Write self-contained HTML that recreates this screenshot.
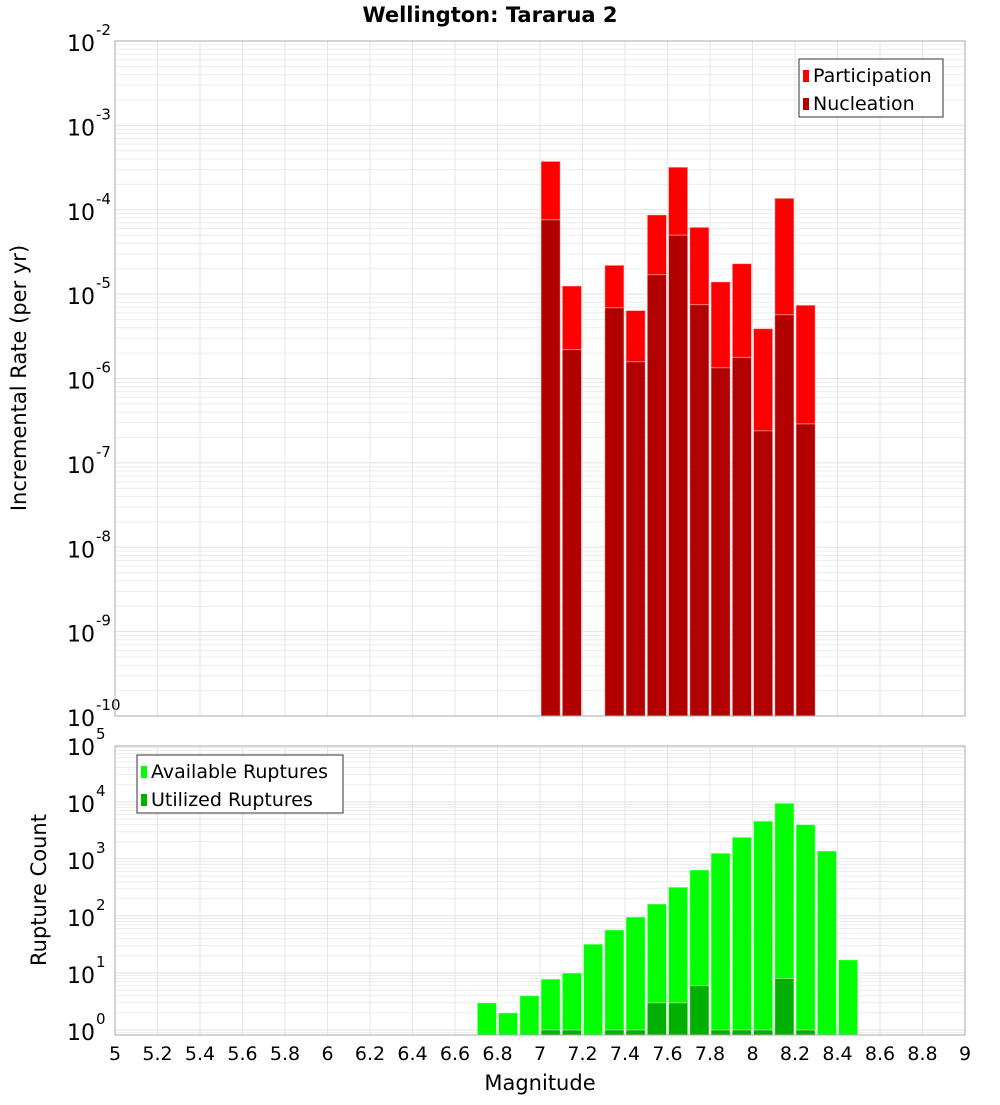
<!DOCTYPE html>
<html><head><meta charset="utf-8"><style>
body{margin:0;background:#fff;}
svg text{font-family:"DejaVu Sans","Liberation Sans",sans-serif;}
</style></head><body>
<svg id="chart" width="1000" height="1100" xmlns="http://www.w3.org/2000/svg">
<rect width="1000" height="1100" fill="#fff"/>
<text x="490" y="22" text-anchor="middle" font-size="21" font-weight="bold">Wellington: Tararua 2</text>
<g id="topPanel"></g><g id="botPanel"></g><g id="xaxis"></g>
<text x="540" y="1090" text-anchor="middle" font-size="21">Magnitude</text>
<text transform="translate(26,378) rotate(-90)" text-anchor="middle" font-size="21">Incremental Rate (per yr)</text>
<text transform="translate(46,890) rotate(-90)" text-anchor="middle" font-size="21">Rupture Count</text>
</svg>
<script>
const rateBins = [7.0,7.1,7.3,7.4,7.5,7.6,7.7,7.8,7.9,8.0,8.1,8.2];
const participation = [3.75e-4,1.25e-5,2.2e-5,6.4e-6,8.7e-5,3.2e-4,6.2e-5,1.4e-5,2.3e-5,3.9e-6,1.37e-4,7.4e-6];
const nucleation = [7.6e-5,2.2e-6,6.9e-6,1.58e-6,1.7e-5,5.0e-5,7.5e-6,1.34e-6,1.78e-6,2.4e-7,5.7e-6,2.9e-7];
const countBins = [6.7,6.8,6.9,7.0,7.1,7.2,7.3,7.4,7.5,7.6,7.7,7.8,7.9,8.0,8.1,8.2,8.3,8.4];
const available = [3,2,4,7.8,10,32,57,96,162,320,640,1260,2400,4600,9500,4000,1380,17];
const utilizedBins = [7.0,7.1,7.3,7.4,7.5,7.6,7.7,7.8,7.9,8.0,8.1,8.2];
const utilized = [1,1,1,1,3,3,6,1,1,1,8,1];
const xTicks = [5,5.2,5.4,5.6,5.8,6,6.2,6.4,6.6,6.8,7,7.2,7.4,7.6,7.8,8,8.2,8.4,8.6,8.8,9];
const topExps = [-10,-9,-8,-7,-6,-5,-4,-3,-2];
const botExps = [0,1,2,3,4,5];

const NS="http://www.w3.org/2000/svg";
const X0=115,X1=965;
const xs=m=>X0+(m-5)/4*(X1-X0);
function mk(tag,attrs,parent){const e=document.createElementNS(NS,tag);for(const k in attrs)e.setAttribute(k,attrs[k]);parent.appendChild(e);return e;}

function panel(g,T,B,lmin,lmax,exps,name){
  const ys=v=>B-(Math.log10(v)-lmin)/(lmax-lmin)*(B-T);
  for(let e=Math.floor(lmin);e<=Math.ceil(lmax);e++)for(let k=1;k<10;k++){
    const v=k*Math.pow(10,e);const l=Math.log10(v);if(l<lmin||l>lmax)continue;
    const ln=mk('line',{x1:X0,x2:X1,y1:ys(v),y2:ys(v),stroke:k==1?'#e2e2e2':'#ececec','stroke-width':1},g);
    
    
  }
  xTicks.forEach(t=>{const ln=mk('line',{x1:xs(t),x2:xs(t),y1:T,y2:B,stroke:'#e6e6e6'},g);
    
    });
  exps.forEach(e=>{const y=ys(Math.pow(10,e));
    const t=mk('text',{x:95,y:y+10,'text-anchor':'end','font-size':22},g);
    
    
    t.textContent='10';
    const s=mk('text',{x:96,y:y-6,'font-size':15},g);
    
    
    s.textContent=String(e);});
  return ys;
}
const gTop=document.getElementById('topPanel'),gBot=document.getElementById('botPanel');
const ysT=panel(gTop,41,716,-10,-2,topExps,'top');
const ysB=panel(gBot,746,1035,-0.088,4.98,botExps,'bottom');
function bar(g,m,v,ys,base,fill,name){
  const x=xs(m)+1,w=xs(m+0.1)-xs(m)-2,y=ys(v);
  const r=mk('rect',{x:x,y:y,width:w,height:base-y,fill:fill,stroke:'rgba(255,255,255,0.5)','stroke-width':1},g);
  
  
}
rateBins.forEach((m,i)=>bar(gTop,m,participation[i],ysT,716,'#ff0000','participation-bar'));
rateBins.forEach((m,i)=>bar(gTop,m,nucleation[i],ysT,716,'#b20000','nucleation-bar'));
countBins.forEach((m,i)=>bar(gBot,m,available[i],ysB,1035,'#00ff00','available-bar'));
utilizedBins.forEach((m,i)=>bar(gBot,m,utilized[i],ysB,1035,'#00b000','utilized-bar'));
mk('rect',{x:X0,y:41,width:X1-X0,height:675,fill:'none',stroke:'#aaa'},gTop);
mk('rect',{x:X0,y:746,width:X1-X0,height:289,fill:'none',stroke:'#aaa'},gBot);
const xa=document.getElementById('xaxis');
xTicks.forEach(t=>{const e=mk('text',{x:xs(t),y:1060,'text-anchor':'middle','font-size':19},xa);
  
  
  e.textContent=String(t);});
function legend(g,x,y,w,items,name){
  const r=mk('rect',{x:x,y:y,width:w,height:58,fill:'#fff',stroke:'#333'},g);
  
  
  items.forEach((it,i)=>{
    const s=mk('rect',{x:x+4,y:y+11+i*28,width:6,height:12,fill:it[1]},g);
    
    
    const t=mk('text',{x:x+14,y:y+23+i*28,'font-size':19},g);
    
    
    t.textContent=it[0];});
}
legend(gTop,799,59,144,[['Participation','#ff0000'],['Nucleation','#b20000']],'top-legend');
legend(gBot,137,755,206,[['Available Ruptures','#00ff00'],['Utilized Ruptures','#00b000']],'bottom-legend');
</script>
</body></html>
